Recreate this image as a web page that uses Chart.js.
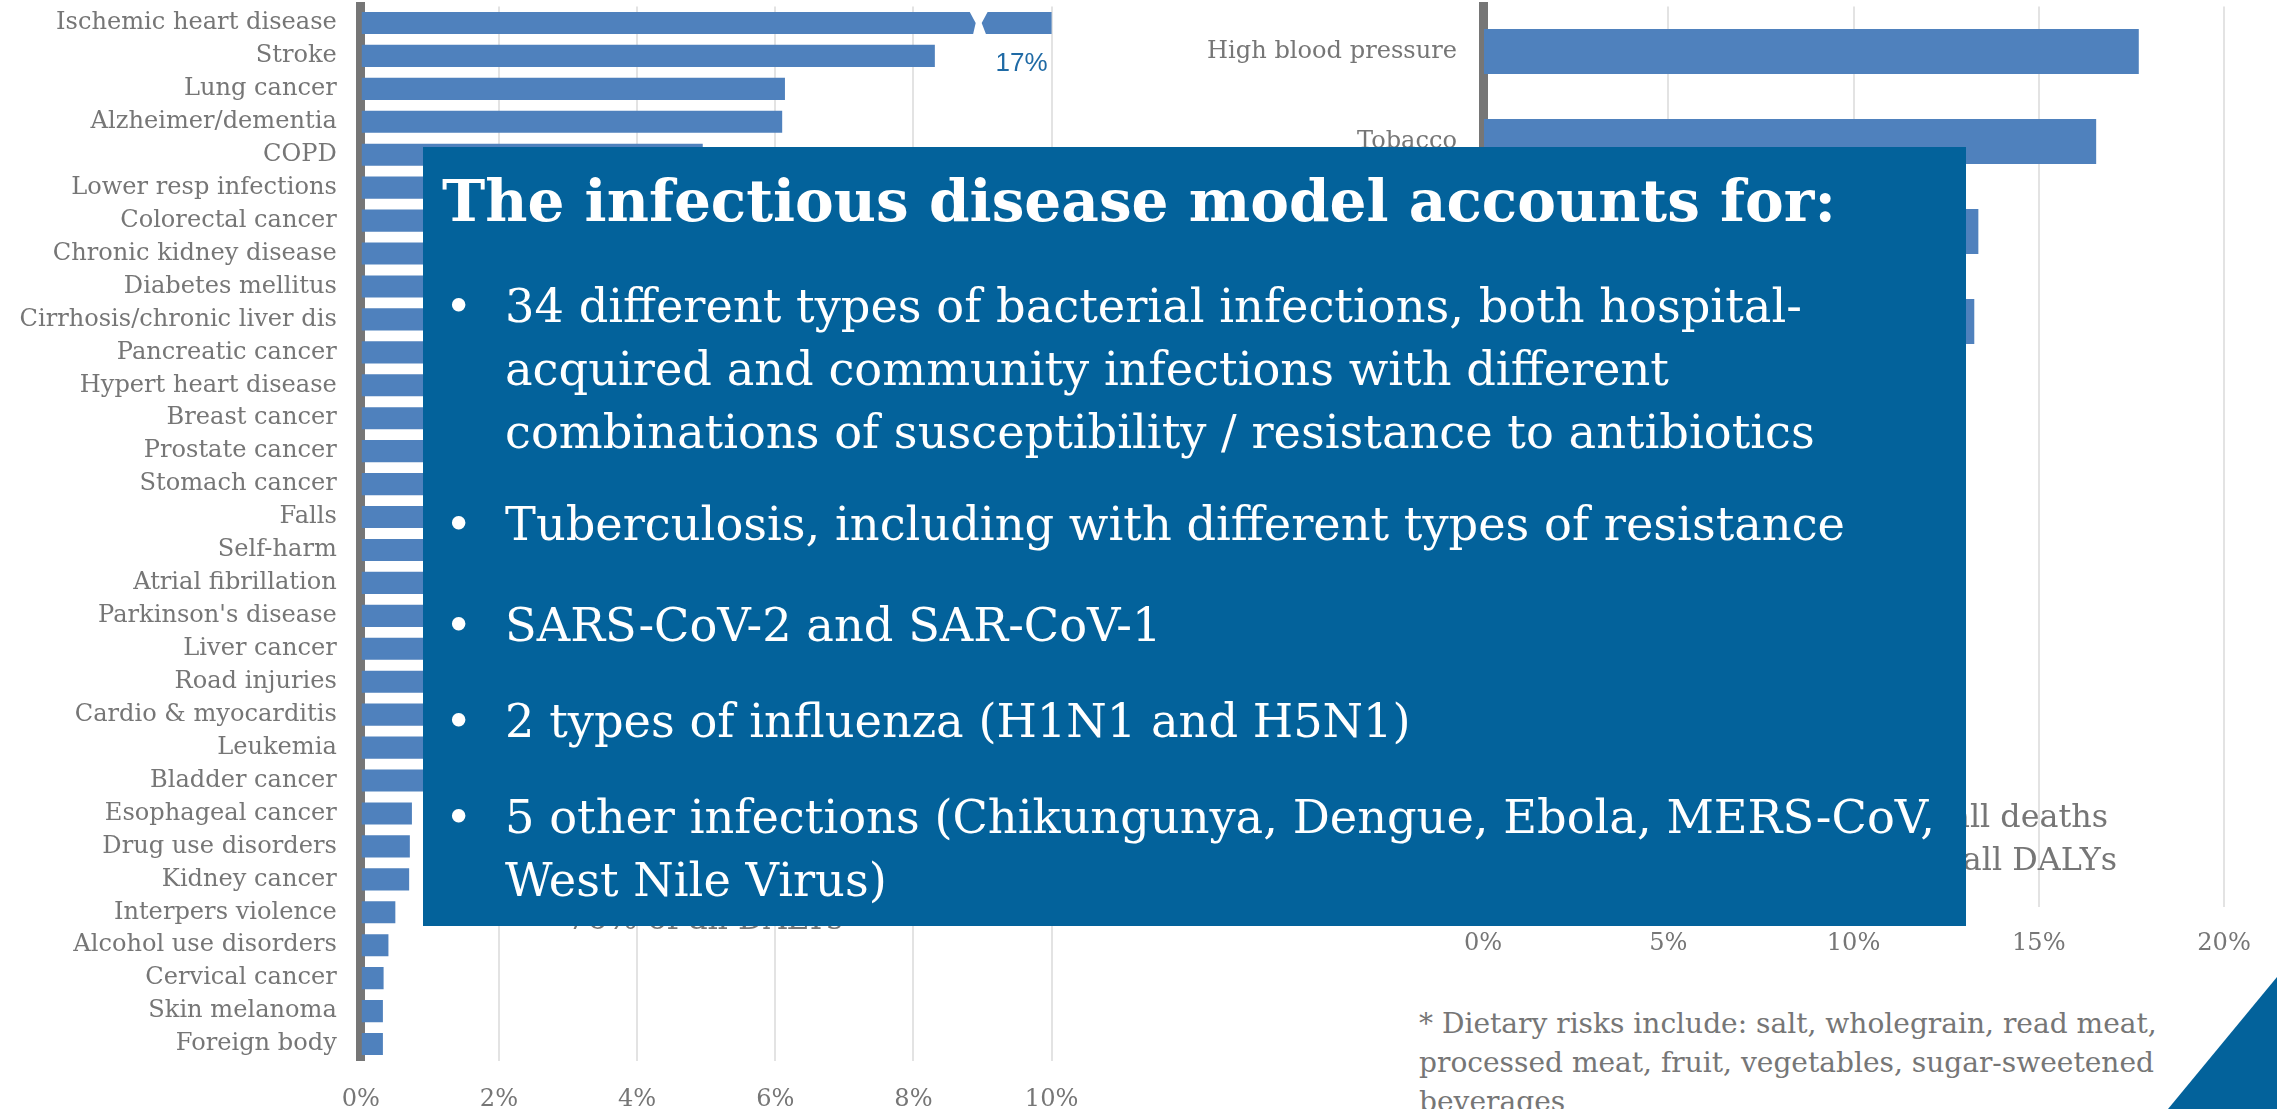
<!DOCTYPE html>
<html>
<head>
<meta charset="utf-8">
<script src="https://cdn.jsdelivr.net/npm/chart.js@4"></script>
<style>
  html, body { margin: 0; padding: 0; background: #fff; }
  #slide { position: relative; width: 2277px; height: 1109px; overflow: hidden; background: #fff; }
  canvas { position: absolute; top: 0; }
  #causes { left: 0; }
  #risks { left: 1100px; }
  .txt { position: absolute; white-space: nowrap; line-height: normal; font-family: "DejaVu Serif"; }
  #box { position: absolute; left: 423px; top: 147px; width: 1543px; height: 779px; background: #03629b; }
  #corner { position: absolute; left: 2168px; top: 977px; width: 109px; height: 132px; background: #03629b;
            clip-path: polygon(100% 0, 100% 100%, 0 100%); }
</style>
</head>
<body>
<div id="slide">
  <canvas id="causes" width="1110" height="1109"></canvas>
  <canvas id="risks" width="1177" height="1000"></canvas>
</div>
<script>
// causes of death, share of all deaths (%)
const causes = ["Ischemic heart disease", "Stroke", "Lung cancer", "Alzheimer/dementia", "COPD",
  "Lower resp infections", "Colorectal cancer", "Chronic kidney disease", "Diabetes mellitus",
  "Cirrhosis/chronic liver dis", "Pancreatic cancer", "Hypert heart disease", "Breast cancer",
  "Prostate cancer", "Stomach cancer", "Falls", "Self-harm", "Atrial fibrillation",
  "Parkinson's disease", "Liver cancer", "Road injuries", "Cardio & myocarditis", "Leukemia",
  "Bladder cancer", "Esophageal cancer", "Drug use disorders", "Kidney cancer",
  "Interpers violence", "Alcohol use disorders", "Cervical cancer", "Skin melanoma", "Foreign body"];
const causeShares = [17, 8.31, 6.14, 6.1, 4.95,
  4.55, 3.35, 2.95, 2.75,
  2.45, 2.05, 1.85, 1.8,
  1.7, 1.6, 1.5, 1.4, 1.3,
  1.25, 1.2, 1.1, 1.05, 1.0,
  0.95, 0.74, 0.71, 0.7,
  0.5, 0.4, 0.33, 0.32, 0.32];
const causeTicks = [0, 2, 4, 6, 8, 10];
const breakAt = 8.93;

// risk factors, share of all deaths (%)
const risks = ["High blood pressure", "Tobacco", "Dietary risks*", "High fasting plasma glucose",
  "High body-mass index", "High LDL cholesterol", "Air pollution", "Kidney dysfunction",
  "Alcohol use", "Low physical activity"];
const riskShares = [17.7, 16.55, 13.37, 13.26, 10.8, 8.6, 7.4, 5.2, 3.9, 1.6];
const riskTicks = [0, 5, 10, 15, 20];

const heading = "The infectious disease model accounts for:";
const bullets = [
  ["34 different types of bacterial infections, both hospital-",
   "acquired and community infections with different",
   "combinations of susceptibility / resistance to antibiotics"],
  ["Tuberculosis, including with different types of resistance"],
  ["SARS-CoV-2 and SAR-CoV-1"],
  ["2 types of influenza (H1N1 and H5N1)"],
  ["5 other infections (Chikungunya, Dengue, Ebola, MERS-CoV,",
   "West Nile Virus)"]
];
const footnote = ["* Dietary risks include: salt, wholegrain, read meat,",
  "processed meat, fruit, vegetables, sugar-sweetened",
  "beverages"];

const barBlue = "#4f81bd";
const textGrey = "#767676";
const gridGrey = "#e3e3e3";
const boxBlue = "#03629b";

const meas = document.createElement("canvas").getContext("2d");
function fit(text, width, weight) {
  meas.font = (weight || "normal") + " 100px 'DejaVu Serif'";
  return 100 * width / meas.measureText(text).width;
}

const labelSize = fit("Ischemic heart disease", 281);

const brokenBar = {
  id: "brokenBar",
  afterDatasetsDraw(chart) {
    const ctx = chart.ctx, x = chart.scales.x, y = chart.scales.y;
    const bar = chart.getDatasetMeta(0).data[0];
    const cx = x.getPixelForValue(breakAt);
    const top = bar.y - bar.height / 2 - 2, bot = bar.y + bar.height / 2 + 2, mid = bar.y;
    ctx.save();
    ctx.fillStyle = "#fff";
    ctx.beginPath();
    ctx.moveTo(cx - 9, top);
    ctx.lineTo(cx + 11, top);
    ctx.lineTo(cx + 4, mid);
    ctx.lineTo(cx + 9, bot);
    ctx.lineTo(cx - 5, bot);
    ctx.lineTo(cx - 2, mid);
    ctx.closePath();
    ctx.fill();
    ctx.fillStyle = "#1f6aa5";
    ctx.font = "26px 'Liberation Sans'";
    ctx.textAlign = "center";
    ctx.textBaseline = "middle";
    ctx.fillText(causeShares[0] + "%", x.right - 30, y.getPixelForValue(1) + 8);
    ctx.restore();
  }
};

function barOptions(ticks, xHeight, yWidth, padRight, tickPad, labelPad) {
  return {
    indexAxis: "y",
    responsive: false,
    animation: false,
    layout: { padding: { top: 6.5, right: padRight, bottom: 0, left: 0 } },
    plugins: { legend: { display: false }, tooltip: { enabled: false } },
    scales: {
      x: {
        min: ticks[0],
        max: ticks[ticks.length - 1],
        afterBuildTicks: (s) => { s.ticks = ticks.map((v) => ({ value: v })); },
        afterFit: (s) => { s.height = xHeight; s.paddingLeft = 0; s.paddingRight = 0; },
        grid: { color: gridGrey, lineWidth: 2, drawTicks: false },
        border: { display: false },
        ticks: { padding: tickPad, color: textGrey, maxRotation: 0, font: { size: labelSize },
                 callback: (v) => v + "%" }
      },
      y: {
        z: 1,
        afterFit: (s) => { s.width = yWidth; s.paddingTop = 0; s.paddingBottom = 0; },
        grid: { color: "rgba(0,0,0,0)", drawTicks: false },
        border: { display: true, color: textGrey, width: 9 },
        ticks: { padding: labelPad, color: textGrey, autoSkip: false, font: { size: labelSize } }
      }
    }
  };
}

Chart.defaults.font.family = "'DejaVu Serif'";

new Chart(document.getElementById("causes"), {
  type: "bar",
  data: {
    labels: causes,
    datasets: [{ data: causeShares, backgroundColor: barBlue, barPercentage: 0.67, categoryPercentage: 1 }]
  },
  options: barOptions(causeTicks, 48.5, 360.8, 58.4, 25, 24),
  plugins: [brokenBar]
});

new Chart(document.getElementById("risks"), {
  type: "bar",
  data: {
    labels: risks,
    datasets: [{ data: riskShares, backgroundColor: barBlue, barPercentage: 0.5, categoryPercentage: 1 }]
  },
  options: barOptions(riskTicks, 93.5, 383, 53, 23, 26)
});

// text and shapes laid over the charts
const slide = document.getElementById("slide");
function place(parent, text, x, base, size, opts) {
  opts = opts || {};
  const weight = opts.weight || "normal";
  meas.font = weight + " " + size + "px 'DejaVu Serif'";
  const m = meas.measureText(text);
  const d = document.createElement("div");
  d.className = "txt";
  d.textContent = text;
  d.style.fontSize = size + "px";
  d.style.fontWeight = weight;
  d.style.color = opts.color || "#fff";
  d.style.top = (base - m.fontBoundingBoxAscent) + "px";
  d.style.left = (opts.right ? x - m.width : x) + "px";
  parent.appendChild(d);
}

const noteSize = fit("76% of all DALYs", 276);
place(slide, "of all deaths", 2108, 827, noteSize, { color: textGrey, right: true });
place(slide, "of all DALYs", 2117, 870, noteSize, { color: textGrey, right: true });
place(slide, "76% of all DALYs", 567, 929, noteSize, { color: textGrey });

const footSize = fit(footnote[0], 738);
footnote.forEach((line, i) => place(slide, line, 1419, 1033 + i * 39, footSize, { color: textGrey }));

const box = document.createElement("div");
box.id = "box";
slide.appendChild(box);
const corner = document.createElement("div");
corner.id = "corner";
slide.appendChild(corner);

// box coordinates are relative to its top-left corner (423, 147)
place(box, heading, 19, 74, fit(heading, 1394, "bold"), { weight: "bold" });
const bulletSize = fit(bullets[0][2], 1310);
const bulletBases = [[175, 238, 301], [393], [494], [590], [686, 749]];
bullets.forEach((lines, i) => {
  place(box, "\u2022", 22, bulletBases[i][0], bulletSize);
  lines.forEach((line, j) => place(box, line, 82, bulletBases[i][j], bulletSize));
});
</script>
</body>
</html>
